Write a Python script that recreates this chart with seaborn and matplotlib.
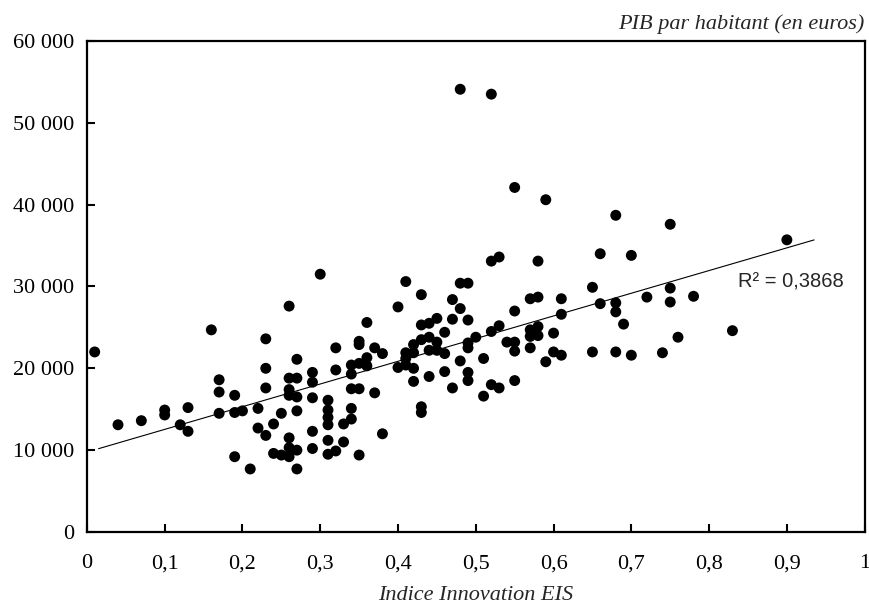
import numpy as np
import pandas as pd
import seaborn as sns
import matplotlib.pyplot as plt
from matplotlib.ticker import FuncFormatter, MultipleLocator

sns.set_style("white")
plt.rcParams['font.family'] = ['Liberation Serif', 'DejaVu Serif']

# Indice Innovation EIS (x) / PIB par habitant en euros (y)
eis = [0.01, 0.04, 0.07, 0.10, 0.10, 0.12, 0.13, 0.13, 0.16, 0.17,
       0.17, 0.17, 0.19, 0.19, 0.19, 0.20, 0.21, 0.22, 0.22, 0.23,
       0.23, 0.23, 0.23, 0.24, 0.24, 0.25, 0.25, 0.26, 0.26, 0.26,
       0.26, 0.26, 0.26, 0.26, 0.27, 0.27, 0.27, 0.27, 0.27, 0.27,
       0.29, 0.29, 0.29, 0.29, 0.29, 0.30, 0.31, 0.31, 0.31, 0.31,
       0.31, 0.31, 0.32, 0.32, 0.32, 0.33, 0.33, 0.34, 0.34, 0.34,
       0.34, 0.34, 0.35, 0.35, 0.35, 0.35, 0.35, 0.36, 0.36, 0.36,
       0.37, 0.37, 0.38, 0.38, 0.40, 0.40, 0.41, 0.41, 0.41, 0.41,
       0.42, 0.42, 0.42, 0.42, 0.43, 0.43, 0.43, 0.43, 0.43, 0.44,
       0.44, 0.44, 0.44, 0.45, 0.45, 0.45, 0.46, 0.46, 0.46, 0.47,
       0.47, 0.47, 0.48, 0.48, 0.48, 0.48, 0.49, 0.49, 0.49, 0.49,
       0.49, 0.49, 0.50, 0.51, 0.51, 0.52, 0.52, 0.52, 0.52, 0.53,
       0.53, 0.53, 0.54, 0.55, 0.55, 0.55, 0.55, 0.55, 0.57, 0.57,
       0.57, 0.57, 0.58, 0.58, 0.58, 0.58, 0.59, 0.59, 0.60, 0.60,
       0.61, 0.61, 0.61, 0.65, 0.65, 0.66, 0.66, 0.68, 0.68, 0.68,
       0.68, 0.69, 0.70, 0.70, 0.72, 0.74, 0.75, 0.75, 0.75, 0.76,
       0.78, 0.83, 0.90]
pib = [22000, 13100, 13600, 14900, 14300, 13100, 15200, 12300, 24700, 18600,
       17100, 14500, 16700, 14600, 9200, 14800, 7700, 15100, 12700, 23600,
       20000, 17600, 11800, 13200, 9600, 14500, 9400, 27600, 18800, 17400,
       16700, 11500, 10300, 9200, 21100, 18800, 16500, 14800, 10000, 7700,
       19500, 18300, 16400, 12300, 10200, 31500, 16100, 14900, 14000, 13100,
       11200, 9500, 22500, 19800, 9900, 13200, 11000, 20400, 19300, 17500,
       15100, 13800, 23300, 22900, 20600, 17500, 9400, 25600, 21300, 20300,
       22500, 17000, 21800, 12000, 27500, 20100, 30600, 21900, 21200, 20400,
       22900, 21900, 20000, 18400, 29000, 25300, 23500, 15300, 14600, 25500,
       23800, 22200, 19000, 26100, 23200, 22200, 24400, 21800, 19600, 28400,
       26000, 17600, 54100, 30400, 27300, 20900, 30400, 25900, 23100, 22500,
       19500, 18500, 23800, 21200, 16600, 53500, 33100, 24500, 18000, 33600,
       25200, 17600, 23200, 42100, 27000, 23200, 22100, 18500, 28500, 24700,
       23900, 22500, 33100, 28700, 25100, 24000, 40600, 20800, 24300, 22000,
       28500, 26600, 21600, 29900, 22000, 34000, 27900, 38700, 28000, 26900,
       22000, 25400, 33800, 21600, 28700, 21900, 37600, 29800, 28100, 23800,
       28800, 24600, 35700]

trend_range = [0.015, 0.935]
r2_label = "R² = 0,3868"

df = pd.DataFrame({"eis": eis, "pib": pib})

fig, ax = plt.subplots(figsize=(8.69, 6.07), dpi=100)
fig.subplots_adjust(left=0.1, right=0.995, top=0.9325, bottom=0.1236)

sns.scatterplot(data=df, x="eis", y="pib", ax=ax, color="black", s=62,
                edgecolor="none", linewidth=0, zorder=3)

# linear trend fitted on the points
slope, intercept = np.polyfit(df["eis"], df["pib"], 1)
tx = np.array(trend_range)
ax.plot(tx, intercept + slope * tx, color="black", lw=0.8, zorder=2)

ax.text(0.837, 30500, r2_label, family=['Liberation Sans', 'DejaVu Sans'],
        fontsize=14.5, ha="left", va="center")

ax.set_xlim(0, 1)
ax.set_ylim(0, 60000)
ax.xaxis.set_major_locator(MultipleLocator(0.1))
ax.yaxis.set_major_locator(MultipleLocator(10000))
ax.xaxis.set_major_formatter(FuncFormatter(
    lambda v, p: "0" if abs(v) < 1e-9 else ("1" if abs(v - 1) < 1e-9 else f"{v:.1f}".replace(".", ","))))
ax.yaxis.set_major_formatter(FuncFormatter(
    lambda v, p: f"{int(round(v)):,}".replace(",", " ")))
ax.tick_params(axis="both", direction="in", length=6, width=1.5, labelsize=16,
               colors="black")
ax.tick_params(axis="x", pad=16)
ax.tick_params(axis="y", pad=9)
ax.tick_params(top=False, right=False, bottom=True, left=True)

for sp in ax.spines.values():
    sp.set_visible(True)
    sp.set_color("black")
    sp.set_linewidth(1.6)

ax.set_xlabel("Indice Innovation EIS", fontsize=16, style="italic", labelpad=9)
ax.set_ylabel("")
ax.text(1.0, 1.015, "PIB par habitant (en euros)", transform=ax.transAxes,
        fontsize=16, style="italic", ha="right", va="bottom")

fig.savefig("out.png", dpi=100)
